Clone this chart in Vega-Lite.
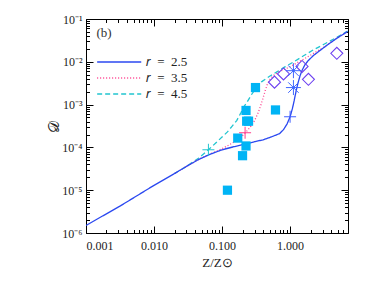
{
  "$schema": "https://vega.github.io/schema/vega-lite/v6.json",
  "width": 262,
  "height": 214,
  "autosize": "none",
  "padding": {"left": 86, "top": 19, "right": 26, "bottom": 48},
  "datasets": {
    "lines": [
      {"Z": 0.02, "D": 2.45e-5, "model": "𝑟 = 4.5"},
      {"Z": 0.03, "D": 3.6e-5, "model": "𝑟 = 4.5"},
      {"Z": 0.045, "D": 5.6e-5, "model": "𝑟 = 4.5"},
      {"Z": 0.063, "D": 8.8e-5, "model": "𝑟 = 4.5"},
      {"Z": 0.08, "D": 1.25e-4, "model": "𝑟 = 4.5"},
      {"Z": 0.1, "D": 1.75e-4, "model": "𝑟 = 4.5"},
      {"Z": 0.12, "D": 2.3e-4, "model": "𝑟 = 4.5"},
      {"Z": 0.14, "D": 3.1e-4, "model": "𝑟 = 4.5"},
      {"Z": 0.165, "D": 4.3e-4, "model": "𝑟 = 4.5"},
      {"Z": 0.19, "D": 6.5e-4, "model": "𝑟 = 4.5"},
      {"Z": 0.21, "D": 9e-4, "model": "𝑟 = 4.5"},
      {"Z": 0.23, "D": 1.1e-3, "model": "𝑟 = 4.5"},
      {"Z": 0.27, "D": 1.7e-3, "model": "𝑟 = 4.5"},
      {"Z": 0.32, "D": 2.5e-3, "model": "𝑟 = 4.5"},
      {"Z": 0.38, "D": 3.4e-3, "model": "𝑟 = 4.5"},
      {"Z": 0.5, "D": 4.6e-3, "model": "𝑟 = 4.5"},
      {"Z": 0.65, "D": 5.9e-3, "model": "𝑟 = 4.5"},
      {"Z": 0.85, "D": 7.7e-3, "model": "𝑟 = 4.5"},
      {"Z": 1.12, "D": 9.9e-3, "model": "𝑟 = 4.5"},
      {"Z": 1.6, "D": 1.4e-2, "model": "𝑟 = 4.5"},
      {"Z": 2.2, "D": 1.9e-2, "model": "𝑟 = 4.5"},
      {"Z": 3.2, "D": 2.6e-2, "model": "𝑟 = 4.5"},
      {"Z": 4.8, "D": 3.7e-2, "model": "𝑟 = 4.5"},
      {"Z": 7.0, "D": 5.2e-2, "model": "𝑟 = 4.5"},
      {"Z": 0.02, "D": 2.45e-5, "model": "𝑟 = 3.5"},
      {"Z": 0.03, "D": 3.6e-5, "model": "𝑟 = 3.5"},
      {"Z": 0.045, "D": 5.2e-5, "model": "𝑟 = 3.5"},
      {"Z": 0.065, "D": 6.9e-5, "model": "𝑟 = 3.5"},
      {"Z": 0.1, "D": 9.3e-5, "model": "𝑟 = 3.5"},
      {"Z": 0.14, "D": 1.25e-4, "model": "𝑟 = 3.5"},
      {"Z": 0.18, "D": 1.6e-4, "model": "𝑟 = 3.5"},
      {"Z": 0.22, "D": 2.2e-4, "model": "𝑟 = 3.5"},
      {"Z": 0.26, "D": 3.0e-4, "model": "𝑟 = 3.5"},
      {"Z": 0.3, "D": 4.2e-4, "model": "𝑟 = 3.5"},
      {"Z": 0.34, "D": 6.5e-4, "model": "𝑟 = 3.5"},
      {"Z": 0.37, "D": 9.5e-4, "model": "𝑟 = 3.5"},
      {"Z": 0.4, "D": 1.4e-3, "model": "𝑟 = 3.5"},
      {"Z": 0.43, "D": 2.1e-3, "model": "𝑟 = 3.5"},
      {"Z": 0.46, "D": 2.9e-3, "model": "𝑟 = 3.5"},
      {"Z": 0.5, "D": 3.8e-3, "model": "𝑟 = 3.5"},
      {"Z": 0.56, "D": 4.7e-3, "model": "𝑟 = 3.5"},
      {"Z": 0.7, "D": 5.9e-3, "model": "𝑟 = 3.5"},
      {"Z": 1.0, "D": 7.7e-3, "model": "𝑟 = 3.5"},
      {"Z": 1.5, "D": 1.1e-2, "model": "𝑟 = 3.5"},
      {"Z": 2.1, "D": 1.5e-2, "model": "𝑟 = 3.5"},
      {"Z": 3.0, "D": 2.1e-2, "model": "𝑟 = 3.5"},
      {"Z": 4.5, "D": 3.3e-2, "model": "𝑟 = 3.5"},
      {"Z": 7.0, "D": 5.1e-2, "model": "𝑟 = 3.5"},
      {"Z": 0.001, "D": 1.5e-6, "model": "𝑟 = 2.5"},
      {"Z": 0.0032, "D": 4.3e-6, "model": "𝑟 = 2.5"},
      {"Z": 0.01, "D": 1.3e-5, "model": "𝑟 = 2.5"},
      {"Z": 0.02, "D": 2.45e-5, "model": "𝑟 = 2.5"},
      {"Z": 0.03, "D": 3.6e-5, "model": "𝑟 = 2.5"},
      {"Z": 0.045, "D": 5.2e-5, "model": "𝑟 = 2.5"},
      {"Z": 0.065, "D": 6.8e-5, "model": "𝑟 = 2.5"},
      {"Z": 0.1, "D": 8.8e-5, "model": "𝑟 = 2.5"},
      {"Z": 0.15, "D": 1.04e-4, "model": "𝑟 = 2.5"},
      {"Z": 0.22, "D": 1.2e-4, "model": "𝑟 = 2.5"},
      {"Z": 0.3, "D": 1.36e-4, "model": "𝑟 = 2.5"},
      {"Z": 0.4, "D": 1.5e-4, "model": "𝑟 = 2.5"},
      {"Z": 0.5, "D": 1.7e-4, "model": "𝑟 = 2.5"},
      {"Z": 0.6, "D": 1.9e-4, "model": "𝑟 = 2.5"},
      {"Z": 0.7, "D": 2.1e-4, "model": "𝑟 = 2.5"},
      {"Z": 0.8, "D": 2.6e-4, "model": "𝑟 = 2.5"},
      {"Z": 0.9, "D": 3.5e-4, "model": "𝑟 = 2.5"},
      {"Z": 1.0, "D": 5.2e-4, "model": "𝑟 = 2.5"},
      {"Z": 1.08, "D": 8e-4, "model": "𝑟 = 2.5"},
      {"Z": 1.15, "D": 1.25e-3, "model": "𝑟 = 2.5"},
      {"Z": 1.22, "D": 2e-3, "model": "𝑟 = 2.5"},
      {"Z": 1.3, "D": 3.1e-3, "model": "𝑟 = 2.5"},
      {"Z": 1.4, "D": 4.7e-3, "model": "𝑟 = 2.5"},
      {"Z": 1.5, "D": 6.3e-3, "model": "𝑟 = 2.5"},
      {"Z": 1.65, "D": 8.5e-3, "model": "𝑟 = 2.5"},
      {"Z": 1.85, "D": 1.07e-2, "model": "𝑟 = 2.5"},
      {"Z": 2.2, "D": 1.4e-2, "model": "𝑟 = 2.5"},
      {"Z": 2.7, "D": 1.8e-2, "model": "𝑟 = 2.5"},
      {"Z": 3.5, "D": 2.45e-2, "model": "𝑟 = 2.5"},
      {"Z": 4.8, "D": 3.5e-2, "model": "𝑟 = 2.5"},
      {"Z": 7.0, "D": 5.1e-2, "model": "𝑟 = 2.5"}
    ],
    "points": [
      {"Z": 0.12, "D": 1.0e-5, "kind": "square"},
      {"Z": 0.2, "D": 6.4e-5, "kind": "square"},
      {"Z": 0.225, "D": 1.08e-4, "kind": "square"},
      {"Z": 0.17, "D": 1.65e-4, "kind": "square"},
      {"Z": 0.23, "D": 4.1e-4, "kind": "square"},
      {"Z": 0.245, "D": 4.1e-4, "kind": "square"},
      {"Z": 0.225, "D": 7.3e-4, "kind": "square"},
      {"Z": 0.31, "D": 2.5e-3, "kind": "square"},
      {"Z": 0.61, "D": 7.5e-4, "kind": "square"},
      {"Z": 0.59, "D": 3.35e-3, "kind": "diamond"},
      {"Z": 0.8, "D": 5.2e-3, "kind": "diamond"},
      {"Z": 1.5, "D": 7.8e-3, "kind": "diamond"},
      {"Z": 1.86, "D": 3.9e-3, "kind": "diamond"},
      {"Z": 4.86, "D": 1.58e-2, "kind": "diamond"},
      {"Z": 1.12, "D": 6.2e-3, "kind": "asterisk"},
      {"Z": 1.12, "D": 2.5e-3, "kind": "asterisk"},
      {"Z": 0.063, "D": 8.8e-5, "kind": "plus", "model": "𝑟 = 4.5"},
      {"Z": 0.218, "D": 2.2e-4, "kind": "plus", "model": "𝑟 = 3.5"},
      {"Z": 1.0, "D": 5.2e-4, "kind": "plus", "model": "𝑟 = 2.5"}
    ]
  },
  "layer": [
    {
      "data": {"name": "lines"},
      "mark": {"type": "line", "strokeWidth": 1.3, "clip": true},
      "encoding": {
        "x": {"field": "Z", "type": "quantitative",
          "scale": {"type": "log", "domain": [0.001, 7.1], "nice": false},
          "axis": {"orient": "bottom", "values": [0.001, 0.01, 0.1, 1], "format": ".3f", "tickSize": -7, "labelPadding": 14, "title": "Z/Z⊙", "titlePadding": 5}},
        "y": {"field": "D", "type": "quantitative",
          "scale": {"type": "log", "domain": [1e-6, 0.1], "nice": false},
          "axis": {"orient": "left", "values": [1e-6, 1e-5, 1e-4, 1e-3, 1e-2, 1e-1], "labelExpr": "'10' + ['⁻⁶','⁻⁵','⁻⁴','⁻³','⁻²','⁻¹'][round(log(datum.value)/LN10)+6]", "tickSize": -7, "labelPadding": 11, "title": "𝒟", "titlePadding": 0, "titleFontSize": 15}},
        "color": {"field": "model", "type": "nominal",
          "scale": {"domain": ["𝑟 = 2.5", "𝑟 = 3.5", "𝑟 = 4.5"], "range": ["#2a48f0", "#ff3d8c", "#22c5d0"]},
          "legend": {"title": null, "labelExpr": "replace(datum.label, regexp(' ', 'g'), '\u2002')"}},
        "strokeDash": {"field": "model", "type": "nominal",
          "scale": {"domain": ["𝑟 = 2.5", "𝑟 = 3.5", "𝑟 = 4.5"], "range": [[1, 0], [1, 2], [5, 3]]},
          "legend": {"title": null, "labelExpr": "replace(datum.label, regexp(' ', 'g'), '\u2002')"}}
      }
    },
    {
      "data": {"name": "points"},
      "transform": [{"filter": "datum.kind === 'square'"}],
      "mark": {"type": "square", "filled": true, "color": "#00b4f5", "size": 85, "opacity": 1},
      "encoding": {
        "x": {"field": "Z", "type": "quantitative", "axis": null},
        "y": {"field": "D", "type": "quantitative", "axis": null}
      }
    },
    {
      "data": {"name": "points"},
      "transform": [{"filter": "datum.kind === 'diamond'"}],
      "mark": {"type": "point", "shape": "diamond", "filled": false, "color": "#6b3ff0", "size": 144, "strokeWidth": 1.1, "opacity": 1},
      "encoding": {
        "x": {"field": "Z", "type": "quantitative", "axis": null},
        "y": {"field": "D", "type": "quantitative", "axis": null}
      }
    },
    {
      "data": {"name": "points"},
      "transform": [{"filter": "datum.kind === 'asterisk'"}],
      "mark": {"type": "point", "shape": "M-1,0H1M0,-1V1M-0.7,-0.7L0.7,0.7M-0.7,0.7L0.7,-0.7", "filled": false, "color": "#4068ff", "size": 225, "strokeWidth": 1, "opacity": 1},
      "encoding": {
        "x": {"field": "Z", "type": "quantitative", "axis": null},
        "y": {"field": "D", "type": "quantitative", "axis": null}
      }
    },
    {
      "data": {"name": "points"},
      "transform": [{"filter": "datum.kind === 'asterisk'"}],
      "mark": {"type": "circle", "color": "#4068ff", "size": 8, "opacity": 1},
      "encoding": {
        "x": {"field": "Z", "type": "quantitative", "axis": null},
        "y": {"field": "D", "type": "quantitative", "axis": null}
      }
    },
    {
      "data": {"name": "points"},
      "transform": [{"filter": "datum.kind === 'plus'"}],
      "mark": {"type": "point", "shape": "M-1,0H1M0,-1V1", "filled": false, "size": 144, "strokeWidth": 1, "opacity": 1},
      "encoding": {
        "x": {"field": "Z", "type": "quantitative", "axis": null},
        "y": {"field": "D", "type": "quantitative", "axis": null},
        "stroke": {"field": "model", "type": "nominal",
          "scale": {"domain": ["𝑟 = 2.5", "𝑟 = 3.5", "𝑟 = 4.5"], "range": ["#4060ff", "#ff3d8c", "#22c5d0"]},
          "legend": null}
      }
    },
    {
      "data": {"values": [{"Z": 0.00184, "D": 0.047, "label": "(b)"}]},
      "mark": {"type": "text", "fontSize": 13, "color": "#333", "align": "center", "baseline": "middle", "font": "Liberation Serif"},
      "encoding": {
        "x": {"field": "Z", "type": "quantitative", "axis": null},
        "y": {"field": "D", "type": "quantitative", "axis": null},
        "text": {"field": "label"}
      }
    },
    {
      "data": {"name": "points"},
      "mark": {"type": "point", "opacity": 0},
      "encoding": {
        "x": {"field": "Z", "type": "quantitative",
          "axis": {"orient": "bottom", "values": [0.002,0.003,0.004,0.005,0.006,0.007,0.008,0.009,0.02,0.03,0.04,0.05,0.06,0.07,0.08,0.09,0.2,0.3,0.4,0.5,0.6,0.7,0.8,0.9,2,3,4,5,6,7], "labels": false, "tickSize": -3.5, "title": null}},
        "y": {"field": "D", "type": "quantitative",
          "axis": {"orient": "left", "values": [2e-6,3e-6,4e-6,5e-6,6e-6,7e-6,8e-6,9e-6,2e-5,3e-5,4e-5,5e-5,6e-5,7e-5,8e-5,9e-5,2e-4,3e-4,4e-4,5e-4,6e-4,7e-4,8e-4,9e-4,2e-3,3e-3,4e-3,5e-3,6e-3,7e-3,8e-3,9e-3,2e-2,3e-2,4e-2,5e-2,6e-2,7e-2,8e-2,9e-2], "labels": false, "tickSize": -3.5, "title": null}}
      }
    },
    {
      "data": {"name": "points"},
      "mark": {"type": "point", "opacity": 0},
      "encoding": {
        "x": {"field": "Z", "type": "quantitative",
          "axis": {"orient": "top", "values": [0.001, 0.01, 0.1, 1], "labels": false, "tickSize": -7, "title": null}},
        "y": {"field": "D", "type": "quantitative",
          "axis": {"orient": "right", "values": [1e-6, 1e-5, 1e-4, 1e-3, 1e-2, 1e-1], "labels": false, "tickSize": -7, "title": null}}
      }
    },
    {
      "data": {"name": "points"},
      "mark": {"type": "point", "opacity": 0},
      "encoding": {
        "x": {"field": "Z", "type": "quantitative",
          "axis": {"orient": "top", "values": [0.002,0.003,0.004,0.005,0.006,0.007,0.008,0.009,0.02,0.03,0.04,0.05,0.06,0.07,0.08,0.09,0.2,0.3,0.4,0.5,0.6,0.7,0.8,0.9,2,3,4,5,6,7], "labels": false, "tickSize": -3.5, "title": null}},
        "y": {"field": "D", "type": "quantitative",
          "axis": {"orient": "right", "values": [2e-6,3e-6,4e-6,5e-6,6e-6,7e-6,8e-6,9e-6,2e-5,3e-5,4e-5,5e-5,6e-5,7e-5,8e-5,9e-5,2e-4,3e-4,4e-4,5e-4,6e-4,7e-4,8e-4,9e-4,2e-3,3e-3,4e-3,5e-3,6e-3,7e-3,8e-3,9e-3,2e-2,3e-2,4e-2,5e-2,6e-2,7e-2,8e-2,9e-2], "labels": false, "tickSize": -3.5, "title": null}}
      }
    }
  ],
  "resolve": {
    "axis": {"x": "independent", "y": "independent"},
    "scale": {"stroke": "independent"}
  },
  "config": {
    "view": {"stroke": "#000", "strokeWidth": 1},
    "font": "Liberation Serif",
    "axis": {
      "grid": false, "domain": false, "tickColor": "#000", "tickWidth": 1,
      "labelColor": "#222", "labelFont": "Liberation Serif", "labelFontSize": 12,
      "titleFont": "Liberation Serif", "titleFontSize": 13, "titleFontWeight": "normal", "titleColor": "#222"
    },
    "legend": {
      "orient": "none", "legendX": 24.7, "legendY": 34.5, "padding": 0,
      "symbolType": "M-3,0H3", "symbolSize": 216, "symbolStrokeWidth": 1.4,
      "labelFont": "Liberation Serif", "labelFontSize": 13, "labelColor": "#222",
      "labelOffset": 18, "rowPadding": 0
    }
  }
}
